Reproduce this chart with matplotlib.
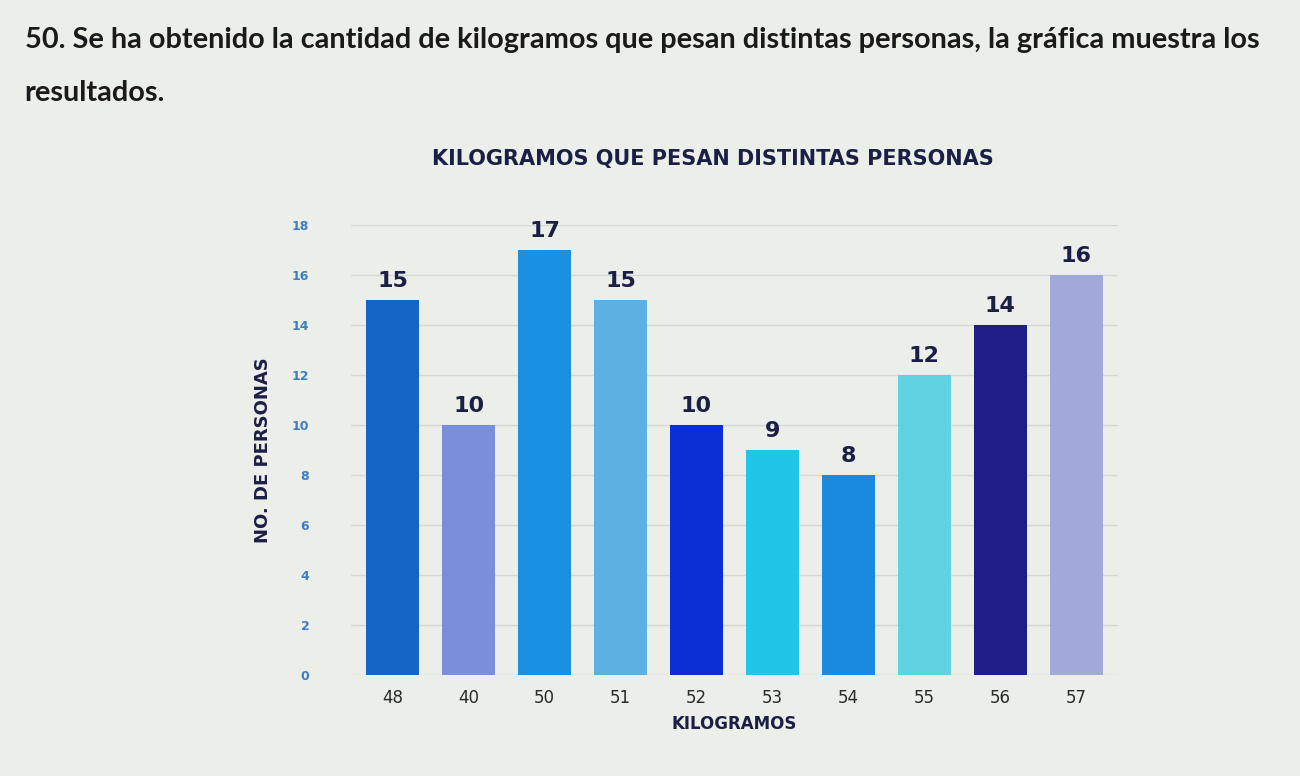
import matplotlib.pyplot as plt
import numpy as np

# data
kilos = ['48', '40', '50', '51', '52', '53', '54', '55', '56', '57']
personas = [15, 10, 17, 15, 10, 9, 8, 12, 14, 16]
bar_colors = ['#1565c4', '#7a8edb', '#1990e2', '#5cb0e2', '#0b2fd4',
              '#1fc6e8', '#1a89e0', '#5fd3e2', '#1f1e88', '#a0a9d8']
y_ticks = [0, 2, 4, 6, 8, 10, 12, 14, 16, 18]

BG = '#eceee9'
NAVY = '#1c1f45'

fig = plt.figure(figsize=(13, 7.76), dpi=100, facecolor=BG)

# question text above the chart, shrunk until the first line fits its width
heading = fig.text(0.019, 0.948,
                   '50. Se ha obtenido la cantidad de kilogramos que pesan distintas personas, la gráfica muestra los',
                   fontsize=22, fontweight='bold', family='Lato', color='#1a1a1a', va='center')
renderer = fig.canvas.get_renderer()
w = heading.get_window_extent(renderer).width
size = min(24, 22 * 1230 / w)
heading.set_fontsize(size)
fig.text(0.019, 0.88, 'resultados.', fontsize=size, fontweight='bold',
         family='Lato', color='#1a1a1a', va='center')

ax = fig.add_axes([0.27, 0.13, 0.59, 0.58])
ax.set_facecolor(BG)

x = np.arange(len(kilos))
bars = ax.bar(x, personas, width=0.7, color=bar_colors, zorder=3)
for b, v in zip(bars, personas):
    ax.text(b.get_x() + b.get_width() / 2, v + 0.35, str(v), ha='center', va='bottom',
            fontsize=16, fontweight='heavy', color=NAVY, zorder=4)

ax.set_ylim(0, 18)
ax.set_xlim(-0.55, len(kilos) - 0.45)
ax.set_yticks(y_ticks)
ax.set_xticks(x)
ax.set_xticklabels(kilos)
ax.tick_params(axis='y', length=0, pad=30, labelsize=9, labelcolor='#3b7fc4')
ax.tick_params(axis='x', length=0, pad=10, labelsize=12, labelcolor='#2a2a2a')
for lbl in ax.get_yticklabels():
    lbl.set_fontweight('bold')
ax.grid(axis='y', color='#d5d8d3', linewidth=1, zorder=0)
for s in ax.spines.values():
    s.set_visible(False)

ax.set_xlabel('KILOGRAMOS', fontsize=12, fontweight='bold', color=NAVY, labelpad=6)
ax.set_ylabel('NO. DE PERSONAS', fontsize=13, fontweight='bold', color=NAVY, labelpad=14)
fig.text(0.548, 0.795, 'KILOGRAMOS QUE PESAN DISTINTAS PERSONAS', fontsize=15,
         fontweight='bold', color=NAVY, ha='center', va='center')

fig.savefig('out.png', dpi=100, facecolor=BG)
